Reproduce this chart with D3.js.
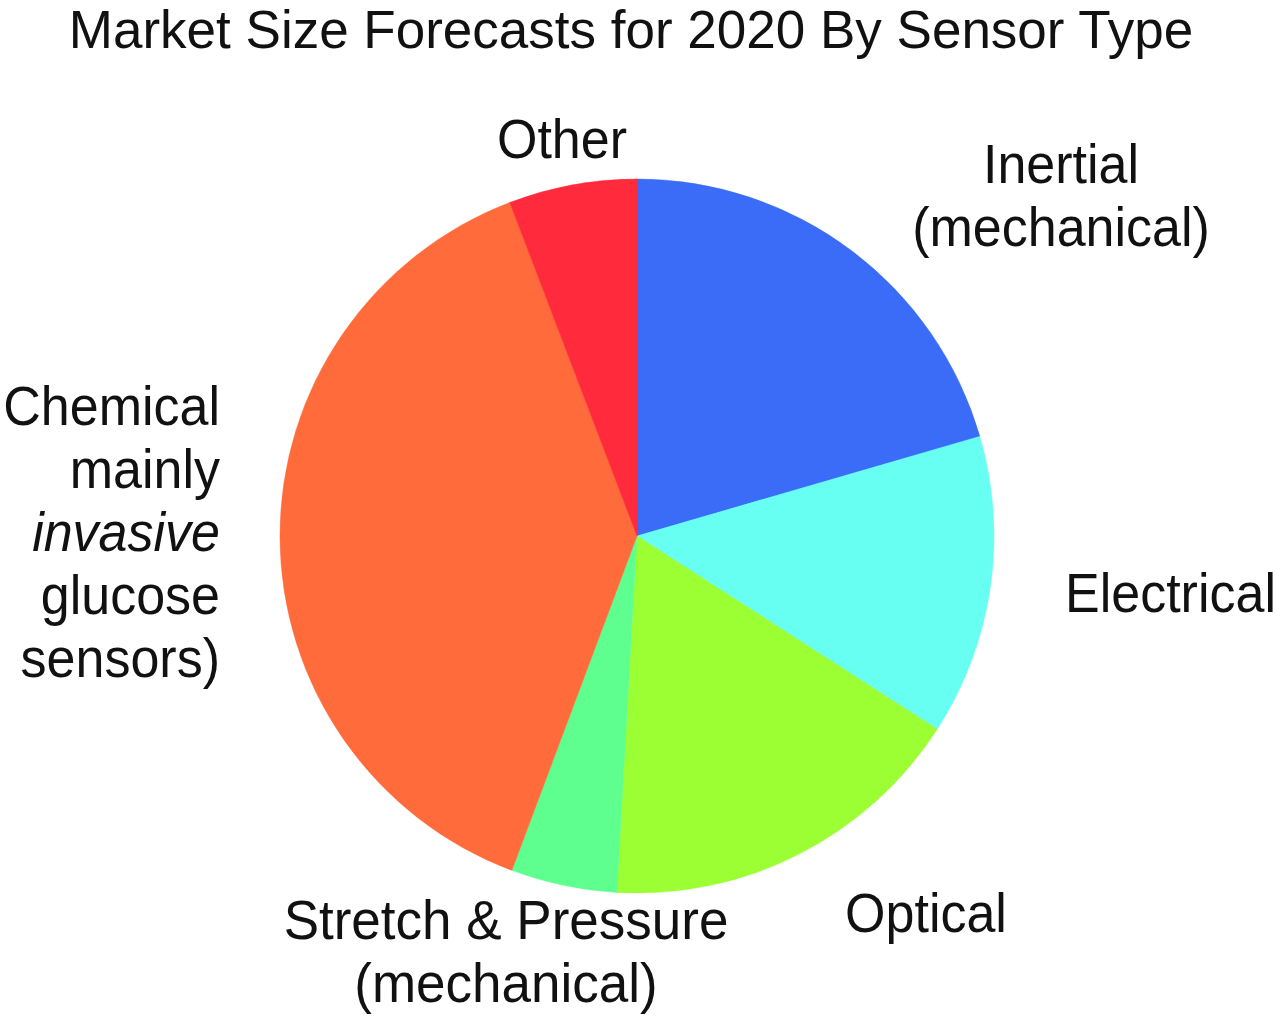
<!DOCTYPE html>
<html>
<head>
<meta charset="utf-8">
<script src="https://cdn.jsdelivr.net/npm/d3@7"></script>
<style>
	body {margin: 0; background: #fff;}
	text {font-family: "Liberation Sans", Arial, sans-serif; fill: #111;}
</style>
</head>
<body>
<div id="chart_disp"></div>
<script>
// sensor types, clockwise from 12 o'clock
var categories = ["Inertial", "Electrical", "Optical", "Stretch", "Chemical", "Other"]
// share of 2020 market, percent
var shares = [20.5, 13.6, 16.8, 4.8, 38.5, 5.8]
var colours = ["#3b6cf7", "#66fff2", "#9cff33", "#5eff8f", "#ff6b3b", "#ff2a3c"]

// label lines per slice; italic marks the word in italics
var label_lines = [
	[{t: "Inertial"}, {t: "(mechanical)"}],
	[{t: "Electrical"}],
	[{t: "Optical"}],
	[{t: "Stretch & Pressure"}, {t: "(mechanical)"}],
	[{t: "Chemical"}, {t: "mainly"}, {t: "invasive", italic: true}, {t: "glucose"}, {t: "sensors)"}],
	[{t: "Other"}]
]

var title = "Market Size Forecasts for 2020 By Sensor Type"

function draw() {
	"use strict"

	var container_dimensions = {width: 1281, height: 1020},
		centre = {x: 637, y: 536},
		radius = 357;

	// label anchors (x, first baseline, anchor)
	var label_pos = [
		{x: 1061, y: 183, anchor: "middle"},
		{x: 1065, y: 612, anchor: "start"},
		{x: 926, y: 932, anchor: "middle"},
		{x: 506, y: 939, anchor: "middle"},
		{x: 220, y: 425, anchor: "end"},
		{x: 562, y: 158, anchor: "middle"}
	]
	var line_height = 63,
		stretch = 1.06; // the original text is a bit taller than it is wide

	var svg = d3.select("#chart_disp")
		.append("svg")
			.attr("width", container_dimensions.width)
			.attr("height", container_dimensions.height);

	svg.append("text")
		.attr("x", 631)
		.attr("y", 48)
		.attr("text-anchor", "middle")
		.style("font-size", "53px")
		.text(title);

	var pie = d3.pie().sort(null).value(function(d){return d})
	var arc = d3.arc().innerRadius(0).outerRadius(radius)

	var slices = pie(shares)

	svg.append("g")
		.attr("transform", "translate(" + centre.x + "," + centre.y + ")")
		.selectAll("path")
		.data(slices)
		.enter()
		.append("path")
			.attr("d", arc)
			.attr("fill", function(d, i){return colours[i]})
			.attr("stroke", function(d, i){return colours[i]})
			.attr("stroke-width", 0.5);

	var labels = svg.selectAll("g.lab")
		.data(categories)
		.enter()
		.append("g")
			.attr("class", "lab")
			.attr("transform", function(d, i){
				return "translate(" + label_pos[i].x + "," + label_pos[i].y + ") scale(1," + stretch + ")"})
		.append("text")
			.attr("text-anchor", function(d, i){return label_pos[i].anchor})
			.style("font-size", function(d, i){return i == 3 ? "53px" : "52px"});

	labels.each(function(d, i){
		var el = d3.select(this)
		label_lines[i].forEach(function(line, j){
			el.append("tspan")
				.attr("x", 0)
				.attr("y", j * line_height / stretch)
				.style("font-style", line.italic ? "italic" : "normal")
				.text(line.t)
		})
	})
}

draw()
</script>
</body>
</html>
